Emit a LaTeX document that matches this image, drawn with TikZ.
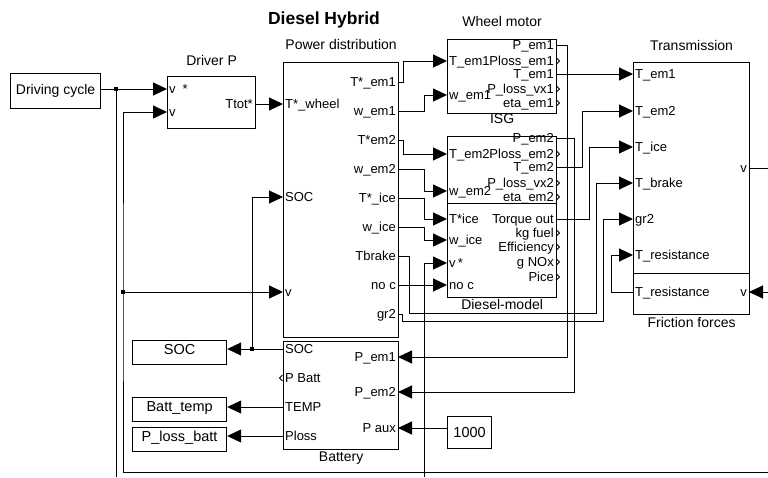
\documentclass[tikz,border=0pt]{standalone}
\usepackage{fontspec}
\setmainfont{Liberation Sans}
\usetikzlibrary{arrows.meta, positioning, calc}
\newcommand{\portfont}{\fontsize{13}{15}\selectfont}
\newcommand{\namefont}{\fontsize{14}{16}\selectfont}
\newcommand{\sinkfont}{\fontsize{14.5}{16}\selectfont}
\newcommand{\titlefont}{\fontsize{17.5}{20}\selectfont\bfseries}
\tikzstyle{block} = [rectangle, draw=black, line width=1.2pt, anchor=north west, inner sep=0pt]
\tikzstyle{sink} = [block, minimum width=94pt, minimum height=24pt, font=\sinkfont, text height=10pt, text depth=6pt]
\tikzstyle{inport} = [anchor=west, inner xsep=2pt, inner ysep=0pt, text height=9pt, text depth=1pt, font=\portfont]
\tikzstyle{outport} = [anchor=east, inner xsep=2pt, inner ysep=0pt, text height=9pt, text depth=1pt, font=\portfont]
\tikzstyle{blkname} = [inner sep=0pt, text height=9.5pt, text depth=2.5pt, font=\namefont]
\tikzstyle{junction} = [rectangle, fill=black, minimum size=3.5pt, inner sep=0pt]
\tikzstyle{sig} = [draw, line width=1pt, -{Triangle[length=14pt,width=13pt]}]
\tikzstyle{wire} = [draw, line width=1pt]
\tikzstyle{openout} = [draw, line width=0.8pt]

\begin{document}
\begin{tikzpicture}[x=1pt, y=-1pt]
    \useasboundingbox (0,0) rectangle (768,477);
    \node[font=\titlefont] (title) at (324,20) {Diesel Hybrid};

    % Blocks
    \node[block, minimum width=90pt, minimum height=35pt, font=\namefont] (cyc) at (10,73) {Driving cycle};
    \node[block, minimum width=88pt, minimum height=52pt] (drv) at (167,76) {};
    \node[block, minimum width=115pt, minimum height=275pt] (pd) at (283,62) {};
    \node[block, minimum width=109pt, minimum height=74pt] (wm) at (447,39) {};
    \node[block, minimum width=109pt, minimum height=67pt] (isg) at (447,136) {};
    \node[block, minimum width=109pt, minimum height=94pt] (ice) at (447,203) {};
    \node[block, minimum width=116pt, minimum height=211pt] (tr) at (633,62) {};
    \node[block, minimum width=116pt, minimum height=41pt] (fr) at (633,273) {};
    \node[block, minimum width=115pt, minimum height=108pt] (bat) at (283,341) {};
    \node[block, minimum width=44pt, minimum height=32pt, font=\sinkfont] (aux) at (447,416) {1000};
    \node[sink] (socd) at (132,340) {SOC};
    \node[sink] (btemp) at (132,397) {Batt\_temp};
    \node[sink] (ploss) at (132,427) {P\_loss\_batt};

    % Block names
    \node[blkname, above=8pt of drv] (drvname) {Driver P};
    \node[blkname, above=9.5pt of pd] (pdname) {Power distribution};
    \node[blkname, above=10pt of wm] (wmname) {Wheel motor};
    \node[blkname, above=10pt of isg] (isgname) {ISG};
    \node[blkname, below=2pt of ice] (icename) {Diesel-model};
    \node[blkname, above=9pt of tr] (trname) {Transmission};
    \node[blkname, below=3pt of fr] (frname) {Friction forces};
    \node[blkname, below=2pt of bat] (batname) {Battery};

    % Ports
    \node[inport] (drvVs) at (167,89) {v\hspace{7pt}*};
    \node[inport] (drvV) at (167,112) {v};
    \node[outport] (drvT) at (255,104) {Ttot*};

    \node[inport] (pdTw) at (283,104) {T*\_wheel};
    \node[inport] (pdSoc) at (283,197) {SOC};
    \node[inport] (pdV) at (283,292) {v};
    \node[outport] (pdTem1) at (398,82) {T*\_em1};
    \node[outport] (pdWem1) at (398,111) {w\_em1};
    \node[outport] (pdTem2) at (398,140) {T*em2};
    \node[outport] (pdWem2) at (398,169) {w\_em2};
    \node[outport] (pdTice) at (398,198) {T*\_ice};
    \node[outport] (pdWice) at (398,227) {w\_ice};
    \node[outport] (pdTb) at (398,256) {Tbrake};
    \node[outport] (pdNoc) at (398,285) {no c};
    \node[outport] (pdGr) at (398,314) {gr2};

    \node[inport] (wmTi) at (447,61) {T\_em1};
    \node[inport] (wmWi) at (447,95) {w\_em1};
    \node[outport] (wmP) at (556,45) {P\_em1};
    \node[outport] (wmPl) at (556,61) {Ploss\_em1};
    \node[outport] (wmT) at (556,74) {T\_em1};
    \node[outport] (wmPv) at (556,89) {P\_loss\_vx1};
    \node[outport] (wmEta) at (556,103) {eta\_em1};

    \node[inport] (isgTi) at (447,154) {T\_em2};
    \node[inport] (isgWi) at (447,191) {w\_em2};
    \node[outport] (isgP) at (556,138) {P\_em2};
    \node[outport] (isgPl) at (556,154) {Ploss\_em2};
    \node[outport] (isgT) at (556,167) {T\_em2};
    \node[outport] (isgPv) at (556,183) {P\_loss\_vx2};
    \node[outport] (isgEta) at (556,197) {eta\_em2};

    \node[inport] (iceTi) at (447,219) {T*ice};
    \node[inport] (iceWi) at (447,240) {w\_ice};
    \node[inport] (iceVs) at (447,263) {v\,*};
    \node[inport] (iceNoc) at (447,285) {no c};
    \node[outport] (iceTq) at (556,219) {Torque out};
    \node[outport] (iceKg) at (556,233) {kg fuel};
    \node[outport] (iceEff) at (556,247) {Efficiency};
    \node[outport] (iceNox) at (556,262) {g NOx};
    \node[outport] (icePice) at (556,277) {Pice};

    \node[inport] (trTem1) at (633,74) {T\_em1};
    \node[inport] (trTem2) at (633,111) {T\_em2};
    \node[inport] (trTice) at (633,147) {T\_ice};
    \node[inport] (trTb) at (633,183) {T\_brake};
    \node[inport] (trGr) at (633,219) {gr2};
    \node[inport] (trTr) at (633,255) {T\_resistance};
    \node[outport] (trV) at (749,168) {v};
    \node[inport] (frTr) at (633,292) {T\_resistance};
    \node[outport] (frV) at (749,292) {v};

    \node[inport] (batSoc) at (283,349) {SOC};
    \node[inport] (batPb) at (283,378) {P Batt};
    \node[inport] (batTemp) at (283,407) {TEMP};
    \node[inport] (batPl) at (283,436) {Ploss};
    \node[outport] (batPem1) at (398,357) {P\_em1};
    \node[outport] (batPem2) at (398,392) {P\_em2};
    \node[outport] (batPaux) at (398,428) {P aux};

    % Branch points and loose ends
    \coordinate (jcyc) at (116,89);
    \coordinate (cycend) at (116,477);
    \coordinate (vret) at (768,472);
    \coordinate (jv) at (123,292);
    \coordinate (jsoc) at (252,349);
    \coordinate (vsend) at (424,477);
    \coordinate (tbk) at (596,313);
    \coordinate (grk) at (603,321);
    \coordinate (vout) at (768,168);
    \coordinate (vin) at (768,292);

    % Arrows
    \path[sig] (cyc.east |- drvVs.west) -- (drvVs.west);
    \path[wire] (jcyc) -- (cycend);
    \path[sig] (vret) -| (jv) |- (drvV.west);
    \path[sig] (jv) -- (pdV.west);
    \path[sig] (drvT.east) -- (pdTw.west);

    \path[sig] (pdTem1.east) -- ++(5,0) |- (wmTi.west);
    \path[sig] (pdWem1.east) -- ++(26,0) |- (wmWi.west);
    \path[sig] (pdTem2.east) -- ++(5,0) |- (isgTi.west);
    \path[sig] (pdWem2.east) -- ++(26,0) |- (isgWi.west);
    \path[sig] (pdTice.east) -- ++(26,0) |- (iceTi.west);
    \path[sig] (pdWice.east) -- ++(26,0) |- (iceWi.west);
    \path[sig] (pdNoc.east) -- (iceNoc.west);
    \path[sig] (vsend) |- (iceVs.west);
    \path[sig] (pdTb.east) -- ++(11,0) |- (tbk) |- (trTb.west);
    \path[sig] (pdGr.east) -- ++(4,0) |- (grk) |- (trGr.west);

    \path[sig] (wmT.east) -- (trTem1.west);
    \path[sig] (wmP.east) -- ++(11,0) |- (batPem1.east);
    \path[sig] (isgP.east) -- ++(18,0) |- (batPem2.east);
    \path[sig] (isgT.east) -- ++(26,0) |- (trTem2.west);
    \path[sig] (iceTq.east) -- ++(33,0) |- (trTice.west);

    \path[wire] (trV.east) -- (vout);
    \path[sig] (vin) -- (frV.east);
    \path[sig] (frTr.west) -- ++(-22,0) |- (trTr.west);

    \path[sig] (batSoc.west) -- (batSoc.west -| socd.east);
    \path[sig] (jsoc) |- (pdSoc.west);
    \path[sig] (batTemp.west) -- (batTemp.west -| btemp.east);
    \path[sig] (batPl.west) -- (batPl.west -| ploss.east);
    \path[sig] (aux.west |- batPaux.east) -- (batPaux.east);

    \node[junction] (jcycdot) at (jcyc) {};
    \node[junction] (jvdot) at (jv) {};
    \node[junction] (jsocdot) at (jsoc) {};

    % Unconnected outputs
    \foreach \p in {wmPl, wmPv, wmEta, isgPl, isgPv, isgEta, iceKg, iceEff, iceNox, icePice}
        \draw[openout] (\p.east) ++(0.5,-3) -- ++(3,3) -- ++(-3,3);
    \draw[openout] (batPb.west) ++(-0.5,-3) -- ++(-3,3) -- ++(3,3);
\end{tikzpicture}
\end{document}
